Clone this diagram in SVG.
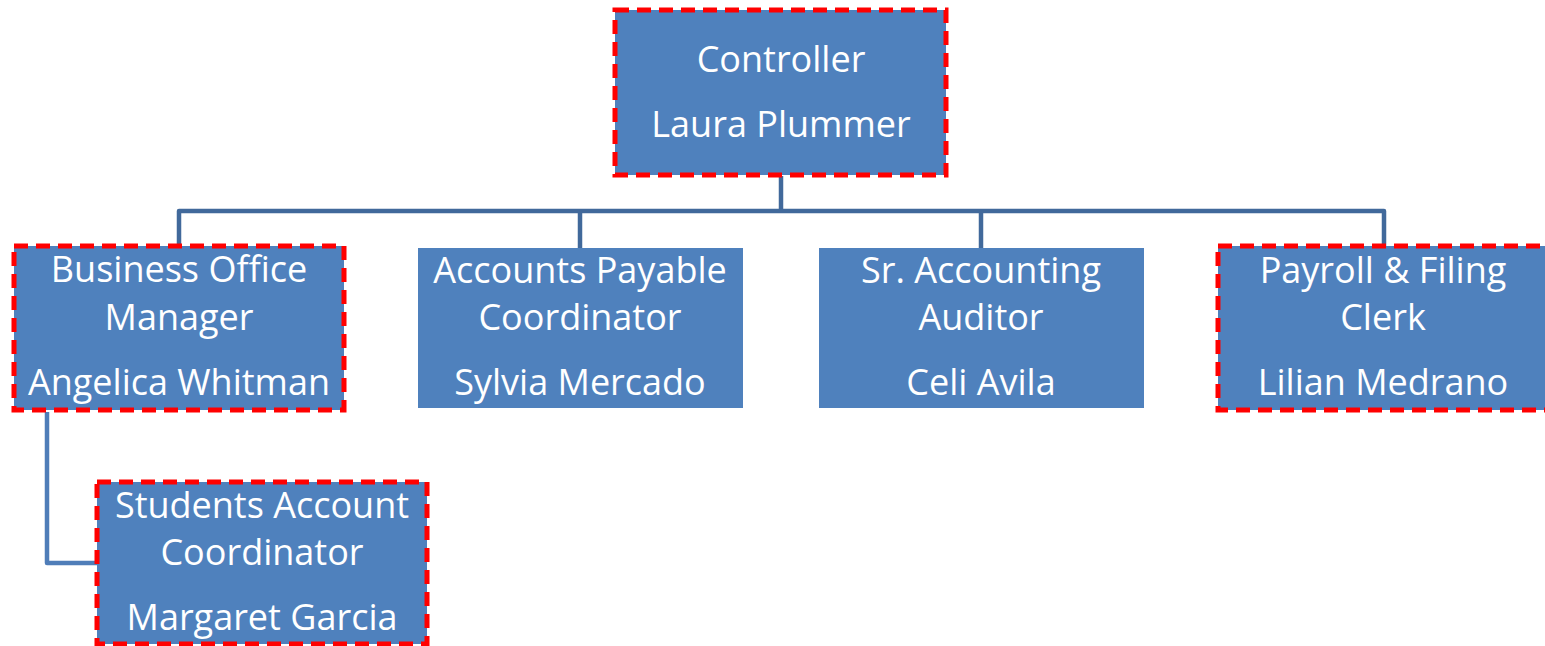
<svg xmlns="http://www.w3.org/2000/svg" width="1545" height="646" viewBox="0 0 1545 646">
<style>
.box{fill:#4F81BD;}
.hl{stroke:#FF0000;stroke-width:5;stroke-dasharray:14 8;fill:#4F81BD;}
.t{font-family:"Open Sans","Noto Sans",sans-serif;font-size:36px;fill:#FFFFFF;text-anchor:middle;}
.c{fill:none;stroke:#41699B;stroke-width:4.5;stroke-linejoin:round;stroke-linecap:butt;}
.c2{fill:none;stroke:#4F7DB8;stroke-width:4.5;stroke-linejoin:round;}
</style>
<rect width="1545" height="646" fill="#FFFFFF"/>
<g id="connectors">
<path class="c" d="M781 176 V211"/>
<path class="c" d="M179 246 V211 H1384 V246"/>
<path class="c" d="M580 211 V248"/>
<path class="c" d="M981 211 V248"/>
<path class="c2" d="M47 412 V563 H97"/>
</g>
<g id="controller">
<rect class="hl" x="615" y="10" width="331" height="165"/>
<text class="t" x="781" y="72">Controller</text>
<text class="t" x="781" y="137">Laura Plummer</text>
</g>
<g id="business-office-manager">
<rect class="hl" x="14" y="246" width="330" height="164"/>
<text class="t" x="179" y="282">Business Office</text>
<text class="t" x="179" y="330">Manager</text>
<text class="t" x="179" y="395">Angelica Whitman</text>
</g>
<g id="accounts-payable">
<rect class="box" x="418" y="248" width="325" height="160"/>
<text class="t" x="580" y="283">Accounts Payable</text>
<text class="t" x="580" y="330">Coordinator</text>
<text class="t" x="580" y="395">Sylvia Mercado</text>
</g>
<g id="sr-accounting-auditor">
<rect class="box" x="819" y="248" width="325" height="160"/>
<text class="t" x="981" y="283">Sr. Accounting</text>
<text class="t" x="981" y="330">Auditor</text>
<text class="t" x="981" y="395">Celi Avila</text>
</g>
<g id="payroll-filing-clerk">
<rect class="hl" x="1218" y="246" width="330" height="164"/>
<text class="t" x="1383" y="283">Payroll &amp; Filing</text>
<text class="t" x="1383" y="330">Clerk</text>
<text class="t" x="1383" y="395">Lilian Medrano</text>
</g>
<g id="students-account-coordinator">
<rect class="hl" x="97" y="482" width="330" height="162"/>
<text class="t" x="262" y="518">Students Account</text>
<text class="t" x="262" y="565">Coordinator</text>
<text class="t" x="262" y="630">Margaret Garcia</text>
</g>
</svg>
